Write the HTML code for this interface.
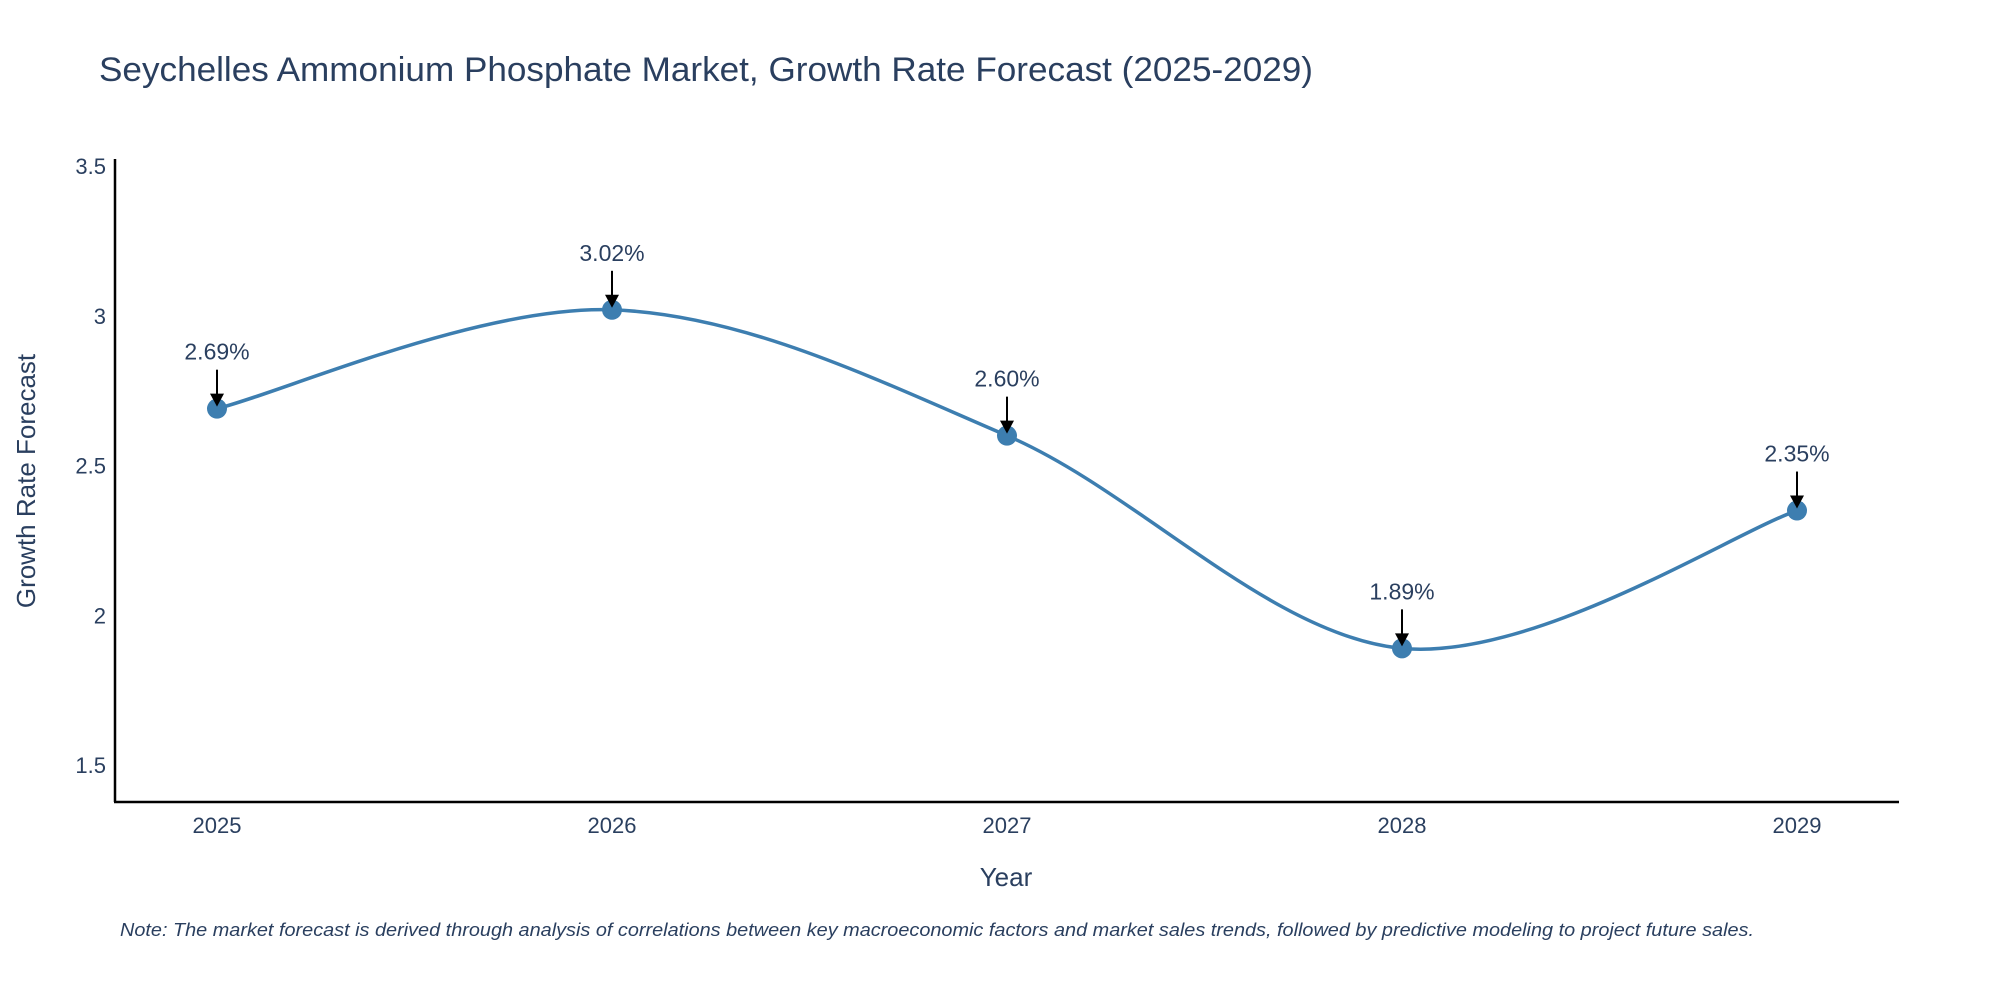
<!DOCTYPE html>
<html><head><meta charset="utf-8">
<style>
html,body{margin:0;padding:0;background:#fff;}
svg{display:block;font-family:"Liberation Sans",sans-serif;}
</style></head>
<body>
<svg id="chart" width="2000" height="1000" viewBox="0 0 2000 1000" xmlns="http://www.w3.org/2000/svg">
<text x="99" y="81" font-size="34" fill="#2a3f5f" textLength="1214" lengthAdjust="spacingAndGlyphs">Seychelles Ammonium Phosphate Market, Growth Rate Forecast (2025-2029)</text>
<g id="yticks"></g>
<g id="xticks"></g>
<line x1="115" y1="159" x2="115" y2="802" stroke="#000" stroke-width="2.5"/>
<line x1="114" y1="802" x2="1899" y2="802" stroke="#000" stroke-width="2.5"/>
<path id="line" fill="none" stroke="#3d7eb0" stroke-width="3.5"/>
<g id="points"></g>
<g id="annots"></g>
<text x="1006" y="886" font-size="26" fill="#2a3f5f" text-anchor="middle">Year</text>
<text x="35" y="481" font-size="26" fill="#2a3f5f" text-anchor="middle" transform="rotate(-90 35 481)">Growth Rate Forecast</text>
<text x="120" y="936" font-size="18" font-style="italic" fill="#2a3f5f" textLength="1634" lengthAdjust="spacingAndGlyphs">Note: The market forecast is derived through analysis of correlations between key macroeconomic factors and market sales trends, followed by predictive modeling to project future sales.</text>
</svg>
<script>
const years = [2025, 2026, 2027, 2028, 2029];
const values = [2.69, 3.02, 2.60, 1.89, 2.35];
const labels = ["2.69%", "3.02%", "2.60%", "1.89%", "2.35%"];
const yTicks = [1.5, 2, 2.5, 3, 3.5];
const yTickLabels = ["1.5", "2", "2.5", "3", "3.5"];

const NS = "http://www.w3.org/2000/svg";
function xS(yr){ return 217 + (yr - 2025) * 395; }
function yS(v){ return 166 + (3.5 - v) * 299.6; }
function mk(tag, attrs, parent){
  const e = document.createElementNS(NS, tag);
  for (const k in attrs) e.setAttribute(k, attrs[k]);
  parent.appendChild(e); return e;
}
const yt = document.getElementById('yticks');
yTicks.forEach((v,i)=>{
  const t = mk('text', {x:106, y:yS(v)+8, 'font-size':22, fill:'#2a3f5f', 'text-anchor':'end'}, yt);
  t.textContent = yTickLabels[i];
  
  
});
const xt = document.getElementById('xticks');
years.forEach(yr=>{
  const t = mk('text', {x:xS(yr), y:833, 'font-size':22, fill:'#2a3f5f', 'text-anchor':'middle'}, xt);
  t.textContent = String(yr);
  
  
});
const pts = years.map((yr,i)=>[xS(yr), yS(values[i])]);
let d = `M${pts[0][0]},${pts[0][1]}`;
const s = 1/6;
for (let i=0;i<pts.length-1;i++){
  const p0 = pts[Math.max(0,i-1)], p1 = pts[i], p2 = pts[i+1], p3 = pts[Math.min(pts.length-1,i+2)];
  const c1 = [p1[0]+(p2[0]-p0[0])*s, p1[1]+(p2[1]-p0[1])*s];
  const c2 = [p2[0]-(p3[0]-p1[0])*s, p2[1]-(p3[1]-p1[1])*s];
  d += ` C${c1[0]},${c1[1]} ${c2[0]},${c2[1]} ${p2[0]},${p2[1]}`;
}
document.getElementById('line').setAttribute('d', d);
const pg = document.getElementById('points');
const ag = document.getElementById('annots');
pts.forEach((p,i)=>{
  const c = mk('circle', {cx:p[0], cy:p[1], r:10, fill:'#3d7eb0'}, pg);
  
  
  const l = mk('line', {x1:p[0], y1:p[1]-39, x2:p[0], y2:p[1]-14, stroke:'#000', 'stroke-width':2}, ag);
  
  
  const h = mk('polygon', {points:`${p[0]-7},${p[1]-15} ${p[0]+7},${p[1]-15} ${p[0]},${p[1]-2}`, fill:'#000'}, ag);
  
  
  const t = mk('text', {x:p[0], y:p[1]-49, 'font-size':23, fill:'#2a3f5f', 'text-anchor':'middle'}, ag);
  t.textContent = labels[i];
  
  
});
</script>
</body></html>
